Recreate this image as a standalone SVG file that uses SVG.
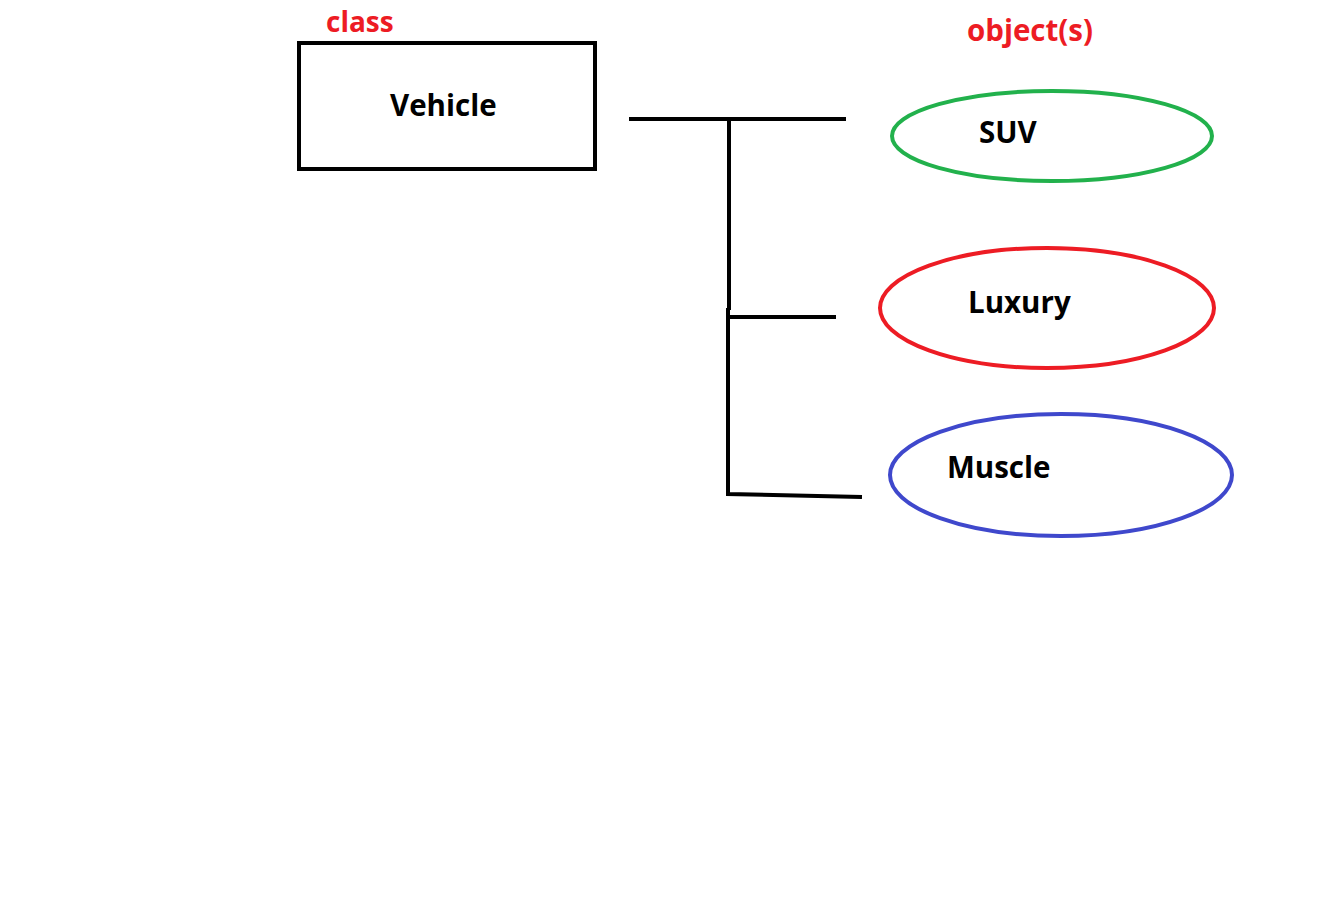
<svg xmlns="http://www.w3.org/2000/svg" width="1334" height="900" viewBox="0 0 1334 900">
<style>
.lbl{font-family:"Open Sans","Noto Sans","Liberation Sans",sans-serif;font-weight:bold;font-size:29.5px;fill:#000}
.red{fill:#ed1c24}
.ln{stroke:#000;stroke-width:4;fill:none;stroke-linecap:square}
.shape{fill:none;stroke-width:4}
</style>
<rect width="1334" height="900" fill="#fff"/>
<text class="lbl red" x="326" y="32" style="font-size:28px">class</text>
<text class="lbl red" x="967" y="41">object(s)</text>
<g id="vehicle">
<rect class="shape" x="299" y="43" width="296" height="126" stroke="#000"/>
<text class="lbl" x="390" y="116">Vehicle</text>
</g>
<g id="connectors">
<line class="ln" x1="631" y1="119" x2="844" y2="119"/>
<polyline class="ln" points="729,119 729,308"/>
<polyline class="ln" points="728,310 728,494 860,497"/>
<line class="ln" x1="728" y1="317" x2="834" y2="317"/>
</g>
<g id="suv">
<ellipse class="shape" cx="1052" cy="136" rx="160" ry="45" stroke="#22b14c"/>
<text class="lbl" x="979" y="143">SUV</text>
</g>
<g id="luxury">
<ellipse class="shape" cx="1047" cy="308" rx="167" ry="60" stroke="#ed1c24"/>
<text class="lbl" x="968" y="313">Luxury</text>
</g>
<g id="muscle">
<ellipse class="shape" cx="1061" cy="475" rx="171" ry="61" stroke="#3f48cc"/>
<text class="lbl" x="947" y="478">Muscle</text>
</g>
</svg>
